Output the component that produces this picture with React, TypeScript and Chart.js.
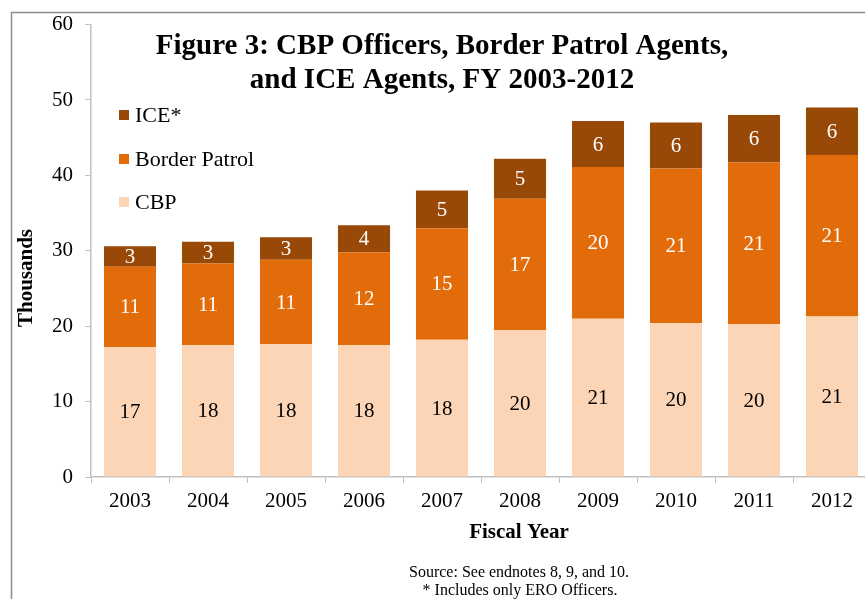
import { useEffect, useRef } from "react";
import { Chart, registerables } from "chart.js";

Chart.register(...registerables);

// Fiscal years on the category axis
const fiscalYears = ["2003", "2004", "2005", "2006", "2007", "2008", "2009", "2010", "2011", "2012"];

// Staffing levels, in thousands
const cbpOfficers = [17.2, 17.5, 17.6, 17.5, 18.2, 19.5, 21.0, 20.4, 20.3, 21.3];
const borderPatrolAgents = [10.7, 10.8, 11.2, 12.3, 14.8, 17.4, 20.1, 20.5, 21.4, 21.4];
const iceAgents = [2.7, 2.9, 3.0, 3.6, 5.0, 5.3, 6.1, 6.1, 6.3, 6.3];

const seriesNames = ["CBP", "Border Patrol", "ICE*"];
const seriesColors = ["#FBD5B5", "#E36C0A", "#984807"];
const labelColors = ["#000000", "#FFFFFF", "#FFFFFF"];

const yMin = 0;
const yMax = 60;
const yStep = 10;

const titleLines = ["Figure 3: CBP Officers, Border Patrol Agents,", "and ICE Agents, FY 2003-2012"];
const yAxisTitle = "Thousands";
const xAxisTitle = "Fiscal Year";
const sourceLines = ["Source: See endnotes 8, 9, and 10.", "* Includes only ERO Officers."];

const SERIF = "'Liberation Serif', 'Times New Roman', serif";

const decorations = {
  id: "decorations",
  beforeDraw(chart: any) {
    const { ctx, width, height } = chart;
    ctx.save();
    ctx.fillStyle = "#FFFFFF";
    ctx.fillRect(0, 0, width, height);
    // outer frame
    ctx.strokeStyle = "#8C8C8C";
    ctx.lineWidth = 1.5;
    ctx.beginPath();
    ctx.moveTo(11.5, height + 5);
    ctx.lineTo(11.5, 12.5);
    ctx.lineTo(width + 5, 12.5);
    ctx.stroke();
    ctx.restore();
  },
  afterDatasetsDraw(chart: any) {
    const { ctx } = chart;
    ctx.save();
    ctx.font = `21px ${SERIF}`;
    ctx.textAlign = "center";
    ctx.textBaseline = "middle";
    chart.data.datasets.forEach((ds: any, di: number) => {
      const meta = chart.getDatasetMeta(di);
      ctx.fillStyle = labelColors[di];
      meta.data.forEach((bar: any, i: number) => {
        const v = ds.data[i] as number;
        const cy = (bar.y + bar.base) / 2;
        ctx.fillText(String(Math.round(v)), bar.x, cy + 1);
      });
    });
    ctx.restore();
  },
  afterDraw(chart: any) {
    const { ctx } = chart;
    ctx.save();
    ctx.fillStyle = "#000000";

    // chart title
    ctx.font = `bold 29px ${SERIF}`;
    ctx.textAlign = "center";
    ctx.textBaseline = "alphabetic";
    ctx.fillText(titleLines[0], 442, 54);
    ctx.fillText(titleLines[1], 442, 88);

    // legend, top series first
    ctx.font = `22px ${SERIF}`;
    ctx.textAlign = "left";
    ctx.textBaseline = "middle";
    const rows = [115, 159, 202];
    for (let r = 0; r < seriesNames.length; r++) {
      const si = seriesNames.length - 1 - r;
      ctx.fillStyle = seriesColors[si];
      ctx.fillRect(119, rows[r] - 5, 10, 10);
      ctx.fillStyle = "#000000";
      ctx.fillText(seriesNames[si], 135, rows[r] + 1);
    }

    // axis titles
    ctx.font = `bold 21px ${SERIF}`;
    ctx.textAlign = "center";
    ctx.textBaseline = "middle";
    ctx.fillText(xAxisTitle, 519, 533);
    ctx.save();
    ctx.translate(27, 278);
    ctx.rotate(-Math.PI / 2);
    ctx.fillText(yAxisTitle, 0, 0);
    ctx.restore();

    // source notes
    ctx.font = `16px ${SERIF}`;
    ctx.fillText(sourceLines[0], 519, 573);
    ctx.fillText(sourceLines[1], 520, 591);
    ctx.restore();
  },
};

export default function App() {
  const canvasRef = useRef<HTMLCanvasElement | null>(null);

  useEffect(() => {
    const canvas = canvasRef.current;
    if (!canvas) return;
    const values = [cbpOfficers, borderPatrolAgents, iceAgents];
    const chart = new Chart(canvas, {
      type: "bar",
      data: {
        labels: fiscalYears,
        datasets: values.map((data, i) => ({
          label: seriesNames[i],
          data,
          backgroundColor: seriesColors[i],
          borderWidth: 0,
          barPercentage: 0.667,
          categoryPercentage: 1,
        })),
      },
      options: {
        responsive: false,
        animation: false,
        layout: { padding: { top: 24, right: 9, left: 0, bottom: 0 } },
        plugins: {
          legend: { display: false },
          title: { display: false },
          tooltip: { enabled: false },
        },
        scales: {
          x: {
            stacked: true,
            grid: {
              display: true,
              drawOnChartArea: false,
              drawTicks: true,
              tickLength: 6,
              color: "#BFBFBF",
              offset: true,
            },
            border: { display: true, color: "#BFBFBF", width: 1.5 },
            ticks: {
              color: "#000000",
              font: { family: SERIF, size: 21 },
              padding: 6,
              maxRotation: 0,
            },
            afterFit(scale: any) {
              scale.height = 122;
            },
          },
          y: {
            stacked: true,
            min: yMin,
            max: yMax,
            grid: {
              display: true,
              drawOnChartArea: false,
              drawTicks: true,
              tickLength: 6,
              color: "#BFBFBF",
            },
            border: { display: true, color: "#BFBFBF", width: 1.5 },
            ticks: {
              stepSize: yStep,
              color: "#000000",
              font: { family: SERIF, size: 21 },
              padding: 12,
            },
            afterFit(scale: any) {
              scale.width = 91;
            },
          },
        },
      },
      plugins: [decorations],
    });
    return () => chart.destroy();
  }, []);

  return (
    <div
      style={{
        position: "fixed",
        left: 0,
        top: 0,
        width: 865,
        height: 599,
        overflow: "hidden",
        background: "#FFFFFF",
      }}
    >
      <canvas ref={canvasRef} width={880} height={599} style={{ display: "block" }} />
    </div>
  );
}
